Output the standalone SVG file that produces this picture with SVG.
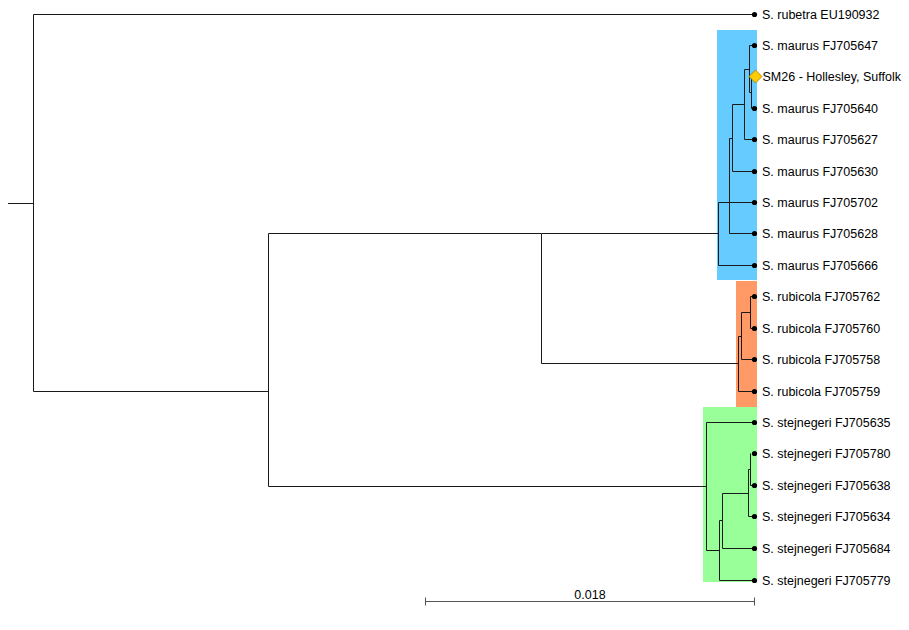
<svg xmlns="http://www.w3.org/2000/svg" width="909" height="630" viewBox="0 0 909 630">
<style>
  .br{fill:none;stroke:#1a1a1a;stroke-width:1}
  .lab{font-family:"Liberation Sans",Arial,sans-serif;font-size:12.5px;fill:#000}
  .dot{fill:#000}
</style>
<rect x="0" y="0" width="909" height="630" fill="#fff"/>
<g id="clades">
  <rect id="clade-maurus" x="717" y="30" width="40" height="250" fill="#66CCFF"/>
  <rect id="clade-rubicola" x="736" y="281" width="21" height="126" fill="#FF9966"/>
  <rect id="clade-stejnegeri" x="703" y="407" width="54" height="175" fill="#99FF99"/>
</g>
<g id="connectors" class="br">
  <path d="M8,203.5H33.5M33.5,14.5V391.5M33.5,14.5H754M33.5,391.5H268.5"/>
  <path d="M268.5,233.5V486.5M268.5,233.5H541.5M268.5,486.5H706"/>
  <path d="M541.5,233.5V363.5M541.5,233.5H718.5M541.5,363.5H738.5"/>
  <path d="M718.5,202.5V265.5H754M718.5,202.5H754"/>
  <path d="M729.5,138.5V233.5H754M729.5,138.5H732.5"/>
  <path d="M732.5,104.5V171.5H754M732.5,104.5H744.5"/>
  <path d="M744.5,69.5V139.5H754M744.5,69.5H749.5"/>
  <path d="M749.5,45.5V92.5H751.5M749.5,45.5H754"/>
  <path d="M751.5,76.5V108.5H754"/>
  <path d="M738.5,336.5V391.5H754M738.5,336.5H741.5"/>
  <path d="M741.5,312.5V359.5H754M741.5,312.5H750.5"/>
  <path d="M750.5,296.5V328.5H754M750.5,296.5H754"/>
  <path d="M706.5,422.5V550.5H719.5M706.5,422.5H754"/>
  <path d="M719.5,520.5V580.5H754M719.5,520.5H722.5"/>
  <path d="M722.5,493.5V548.5H754M722.5,493.5H748.5"/>
  <path d="M748.5,469.5V516.5H754M748.5,469.5H750.5"/>
  <path d="M750.5,453.5V485.5H754"/>
  <path d="M425.5,601.5H754.5M425.5,597.5V605.5M754.5,597.5V605.5" stroke="#555"/>
</g>
<g id="leaves">
  <g id="leaf-rubetra"><circle class="dot" cx="754.5" cy="14.5" r="2.6"/><text class="lab" x="762" y="19">S. rubetra EU190932</text></g>
  <g id="leaf-m647"><circle class="dot" cx="754.5" cy="45.5" r="2.6"/><text class="lab" x="762" y="50">S. maurus FJ705647</text></g>
  <g id="leaf-sm26"><path d="M755.5,70L762,76.5L755.5,83L749,76.5Z" fill="#FFCC00" stroke="#A07800" stroke-width="0.8"/><text class="lab" x="762.5" y="81">SM26 - Hollesley, Suffolk</text></g>
  <g id="leaf-m640"><circle class="dot" cx="754.5" cy="108.5" r="2.6"/><text class="lab" x="762" y="113">S. maurus FJ705640</text></g>
  <g id="leaf-m627"><circle class="dot" cx="754.5" cy="139.5" r="2.6"/><text class="lab" x="762" y="144">S. maurus FJ705627</text></g>
  <g id="leaf-m630"><circle class="dot" cx="754.5" cy="171.5" r="2.6"/><text class="lab" x="762" y="176">S. maurus FJ705630</text></g>
  <g id="leaf-m702"><circle class="dot" cx="754.5" cy="202.5" r="2.6"/><text class="lab" x="762" y="207">S. maurus FJ705702</text></g>
  <g id="leaf-m628"><circle class="dot" cx="754.5" cy="233.5" r="2.6"/><text class="lab" x="762" y="238">S. maurus FJ705628</text></g>
  <g id="leaf-m666"><circle class="dot" cx="754.5" cy="265.5" r="2.6"/><text class="lab" x="762" y="270">S. maurus FJ705666</text></g>
  <g id="leaf-r762"><circle class="dot" cx="754.5" cy="296.5" r="2.6"/><text class="lab" x="762" y="301">S. rubicola FJ705762</text></g>
  <g id="leaf-r760"><circle class="dot" cx="754.5" cy="328.5" r="2.6"/><text class="lab" x="762" y="333">S. rubicola FJ705760</text></g>
  <g id="leaf-r758"><circle class="dot" cx="754.5" cy="359.5" r="2.6"/><text class="lab" x="762" y="364">S. rubicola FJ705758</text></g>
  <g id="leaf-r759"><circle class="dot" cx="754.5" cy="391.5" r="2.6"/><text class="lab" x="762" y="396">S. rubicola FJ705759</text></g>
  <g id="leaf-s635"><circle class="dot" cx="754.5" cy="422.5" r="2.6"/><text class="lab" x="762" y="427">S. stejnegeri FJ705635</text></g>
  <g id="leaf-s780"><circle class="dot" cx="754.5" cy="453.5" r="2.6"/><text class="lab" x="762" y="458">S. stejnegeri FJ705780</text></g>
  <g id="leaf-s638"><circle class="dot" cx="754.5" cy="485.5" r="2.6"/><text class="lab" x="762" y="490">S. stejnegeri FJ705638</text></g>
  <g id="leaf-s634"><circle class="dot" cx="754.5" cy="516.5" r="2.6"/><text class="lab" x="762" y="521">S. stejnegeri FJ705634</text></g>
  <g id="leaf-s684"><circle class="dot" cx="754.5" cy="548.5" r="2.6"/><text class="lab" x="762" y="553">S. stejnegeri FJ705684</text></g>
  <g id="leaf-s779"><circle class="dot" cx="754.5" cy="580.5" r="2.6"/><text class="lab" x="762" y="585">S. stejnegeri FJ705779</text></g>
</g>
<g id="scale">
  <text class="lab" x="590" y="598.5" text-anchor="middle">0.018</text>
</g>
</svg>
